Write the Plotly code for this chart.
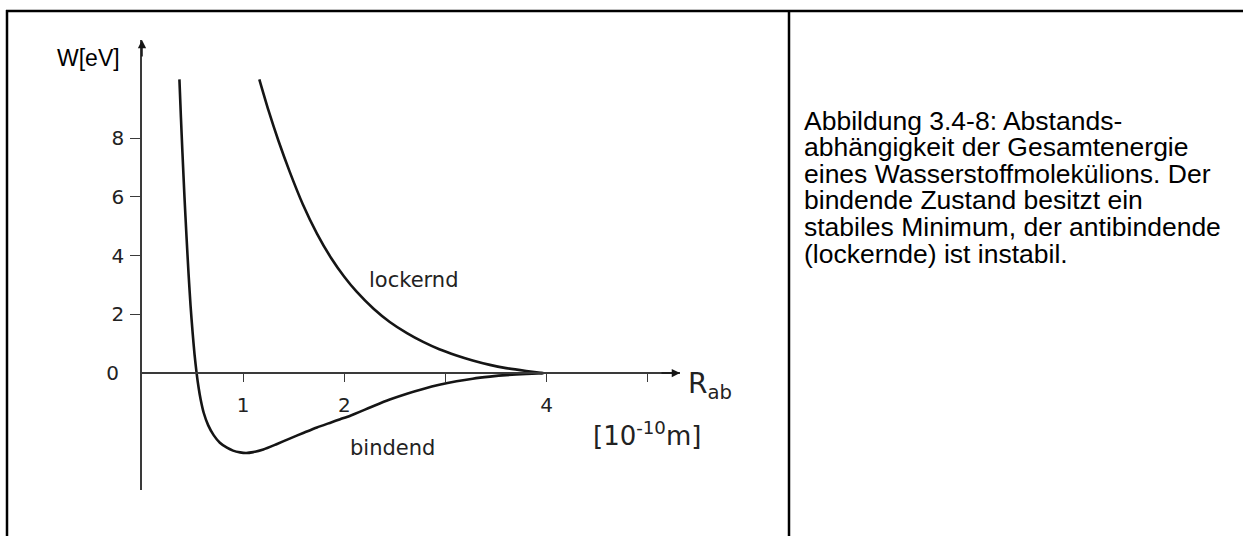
import plotly.graph_objects as go

# ---- data ----
bindend_x = [0.37, 0.385, 0.40, 0.42, 0.44, 0.46, 0.48, 0.50, 0.52, 0.54, 0.56, 0.58, 0.61, 0.655,
             0.71, 0.77, 0.84, 0.90, 0.97, 1.03, 1.10, 1.20, 1.33, 1.46, 1.60, 1.73, 1.87, 1.96,
             2.06, 2.29, 2.45, 2.62, 2.78, 2.94, 3.11, 3.27, 3.44, 3.60, 3.80, 3.97]
bindend_y = [10.0, 8.7, 7.5, 6.0, 4.65, 3.4, 2.3, 1.4, 0.62, 0.0, -0.5, -0.9, -1.35, -1.78,
             -2.12, -2.37, -2.54, -2.64, -2.70, -2.72, -2.69, -2.60, -2.42, -2.23, -2.03, -1.85, -1.68, -1.57,
             -1.45, -1.12, -0.90, -0.70, -0.54, -0.40, -0.28, -0.19, -0.12, -0.07, -0.03, 0.0]

lockernd_x = [1.16, 1.25, 1.35, 1.46, 1.59, 1.73, 1.87, 2.00, 2.12, 2.29, 2.45, 2.62, 2.78,
              2.94, 3.11, 3.27, 3.44, 3.60, 3.80, 3.96]
lockernd_y = [10.0, 8.95, 7.9, 6.86, 5.75, 4.75, 3.92, 3.28, 2.78, 2.19, 1.74, 1.36, 1.06,
              0.81, 0.60, 0.43, 0.28, 0.17, 0.07, 0.0]

y_tickvals = [2, 4, 6, 8]
y_ticktext = ["2", "4", "6", "8"]
x_tickvals = [1, 2, 3, 4, 5]
x_ticktext = ["1", "2", "", "4", ""]

caption_lines = [
    "Abbildung 3.4-8: Abstands-",
    "abhängigkeit der Gesamtenergie",
    "eines Wasserstoffmolekülions. Der",
    "bindende Zustand besitzt ein",
    "stabiles Minimum, der antibindende",
    "(lockernde) ist instabil.",
]

# ---- geometry ----
W, H = 1243, 536
ML, MR, MT, MB = 142, W - 680, 40, H - 490
PW, PH = W - ML - MR, H - MT - MB
X_RANGE = [0, 5.32]
Y_RANGE = [-3.98, 11.34]


def px(xp):
    return (xp - ML) / PW


def py(yp):
    return (H - MB - yp) / PH


ink = "#151515"
axis_col = "#3a3a3a"
scan_font = "DejaVu Sans"

fig = go.Figure()
fig.add_trace(go.Scatter(x=bindend_x, y=bindend_y, mode="lines", line=dict(color=ink, width=2.6, shape="spline", smoothing=0.6),
                         hoverinfo="skip", showlegend=False))
fig.add_trace(go.Scatter(x=lockernd_x, y=lockernd_y, mode="lines", line=dict(color=ink, width=2.6, shape="spline", smoothing=0.6),
                         hoverinfo="skip", showlegend=False))
# empty trace carrying the overlay axis used for the "0" label
fig.add_trace(go.Scatter(x=[], y=[], yaxis="y2", showlegend=False, hoverinfo="skip"))

zero_pos = (0 - Y_RANGE[0]) / (Y_RANGE[1] - Y_RANGE[0])

fig.update_layout(
    width=W, height=H,
    margin=dict(l=ML, r=MR, t=MT, b=MB, autoexpand=False),
    paper_bgcolor="white", plot_bgcolor="white",
    xaxis=dict(range=X_RANGE, anchor="free", position=zero_pos, showgrid=False, zeroline=False,
               showline=True, linecolor=axis_col, linewidth=1.5,
               ticks="outside", ticklen=8, tickwidth=1.3, tickcolor=axis_col,
               tickvals=x_tickvals, ticktext=x_ticktext, ticklabelstandoff=6,
               tickfont=dict(family=scan_font, size=20, color="#222")),
    yaxis=dict(range=Y_RANGE, showgrid=False, zeroline=False,
               showline=True, linecolor=axis_col, linewidth=1.5,
               ticks="outside", ticklen=10, tickwidth=1.3, tickcolor=axis_col,
               tickvals=y_tickvals, ticktext=y_ticktext, ticklabelstandoff=2,
               tickfont=dict(family=scan_font, size=20, color="#222")),
    yaxis2=dict(range=Y_RANGE, overlaying="y", anchor="x", side="left", showgrid=False, zeroline=False,
                showline=False, ticks="", tickvals=[0], ticktext=["0"], ticklabelstandoff=22,
                tickfont=dict(family=scan_font, size=20, color="#222")),
)

# arrow heads of the axes
fig.add_annotation(x=0, y=Y_RANGE[1], xref="x", yref="y", ax=0, ay=18, text="", showarrow=True,
                   arrowhead=2, arrowsize=1.1, arrowwidth=1.5, arrowcolor=ink)
fig.add_annotation(x=X_RANGE[1], y=0, xref="x", yref="y", ax=-20, ay=0, text="", showarrow=True,
                   arrowhead=2, arrowsize=1.1, arrowwidth=1.5, arrowcolor=ink)

# curve labels
fig.add_annotation(x=px(413), y=py(280), xref="paper", yref="paper", text="lockernd", showarrow=False,
                   xanchor="center", yanchor="middle", font=dict(family=scan_font, size=21, color="#222"))
fig.add_annotation(x=px(392), y=py(448), xref="paper", yref="paper", text="bindend", showarrow=False,
                   xanchor="center", yanchor="middle", font=dict(family=scan_font, size=21, color="#222"))

# axis titles
fig.add_annotation(x=px(55), y=py(58), xref="paper", yref="paper", text="W[eV]", showarrow=False,
                   xanchor="left", yanchor="middle", font=dict(family="Liberation Sans, Arial", size=23, color="black"))
fig.add_annotation(x=px(686), y=py(385), xref="paper", yref="paper", text="R<sub>ab</sub>", showarrow=False,
                   xanchor="left", yanchor="middle", font=dict(family=scan_font, size=28, color="#222"))
fig.add_annotation(x=px(591), y=py(434), xref="paper", yref="paper", text="[10<sup>-10</sup>m]", showarrow=False,
                   xanchor="left", yanchor="middle", font=dict(family=scan_font, size=26, color="#222"))

# caption
for i, line in enumerate(caption_lines):
    fig.add_annotation(x=px(802), y=py(120.5 + i * 26.6), xref="paper", yref="paper", text=line, showarrow=False,
                       xanchor="left", yanchor="middle", font=dict(family="Liberation Sans, Arial", size=26.5, color="black"))

# table borders
bl = dict(color="black", width=2.5)
fig.add_shape(type="line", xref="paper", yref="paper", x0=px(6), x1=px(W + 5), y0=py(11), y1=py(11), line=bl)
fig.add_shape(type="line", xref="paper", yref="paper", x0=px(7), x1=px(7), y0=py(10), y1=py(H + 5), line=bl)
fig.add_shape(type="line", xref="paper", yref="paper", x0=px(789), x1=px(789), y0=py(10), y1=py(H + 5), line=bl)

fig.write_html("out.html")
